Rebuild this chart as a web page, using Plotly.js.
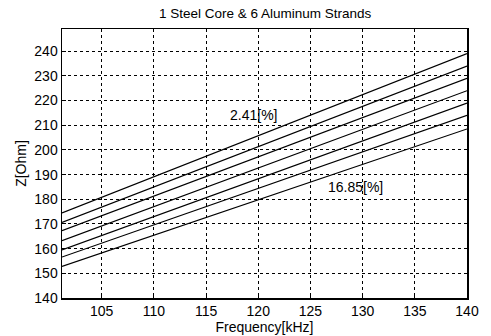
<!DOCTYPE html>
<html>
<head>
<meta charset="utf-8">
<script src="https://cdn.plot.ly/plotly-3.0.1.min.js"></script>
<style>html,body{margin:0;padding:0;background:#fff;}#chart{width:491px;height:336px;}</style>
</head>
<body>
<div id="chart"></div>
<script>
// Data (straight lines, endpoints)
const freq = [101.2, 140];
const steelRatio = ['2.41', '4.81', '7.22', '9.63', '12.04', '14.44', '16.85'];
const z241 = [174.5, 239.0];
const z481 = [170.6, 234.0];
const z722 = [167.3, 229.0];
const z963 = [163.2, 224.0];
const z1204 = [159.5, 219.0];
const z1444 = [156.6, 214.0];
const z1685 = [152.8, 208.5];
const series = [z241, z481, z722, z963, z1204, z1444, z1685];
const xTicks = [105, 110, 115, 120, 125, 130, 135, 140];
const yTicks = [140, 150, 160, 170, 180, 190, 200, 210, 220, 230, 240];

const traces = series.map((y, i) => ({
  x: freq, y: y, mode: 'lines', type: 'scatter',
  name: steelRatio[i] + '[%]',
  line: {color: '#000', width: 1.2},
  showlegend: false, hoverinfo: 'skip'
}));

const fam = 'Liberation Sans, Arial, sans-serif';
const font = {family: fam, color: '#000', size: 14};
const axisCommon = {
  showline: true, linecolor: '#000', linewidth: 1.5, mirror: true,
  ticks: 'inside', ticklen: 4, tickcolor: '#000',
  showgrid: true, gridcolor: '#000', gridwidth: 1, griddash: '3px,3px',
  zeroline: false, tickfont: {family: fam, size: 14, color: '#000'}
};

const layout = {
  width: 491, height: 336,
  margin: {l: 62, r: 24, t: 29, b: 38},
  paper_bgcolor: '#fff', plot_bgcolor: '#fff',
  font: font,
  title: {text: '1 Steel Core & 6 Aluminum Strands', font: {family: fam, size: 13.5, color: '#000'}, x: 0.54, xanchor: 'center', y: 0.96, yanchor: 'middle'},
  xaxis: Object.assign({}, axisCommon, {
    range: [101.2, 140], tickvals: xTicks, ticktext: xTicks.map(String),
    title: {text: 'Frequency[kHz]', font: {family: fam, size: 14, color: '#000'}, standoff: 1}
  }),
  yaxis: Object.assign({}, axisCommon, {
    range: [140, 249], tickvals: yTicks, ticktext: yTicks.map(String),
    title: {text: 'Z[Ohm]', font: {family: fam, size: 14, color: '#000'}, standoff: 4}
  }),
  annotations: [
    {x: 119.5, y: 214, text: steelRatio[0] + '[%]', showarrow: false, font: {family: fam, size: 14, color: '#000'}},
    {x: 129.3, y: 185, text: steelRatio[6] + '[%]', showarrow: false, font: {family: fam, size: 14, color: '#000'}}
  ]
};

Plotly.newPlot('chart', traces, layout, {displayModeBar: false, staticPlot: true});
</script>
</body>
</html>
